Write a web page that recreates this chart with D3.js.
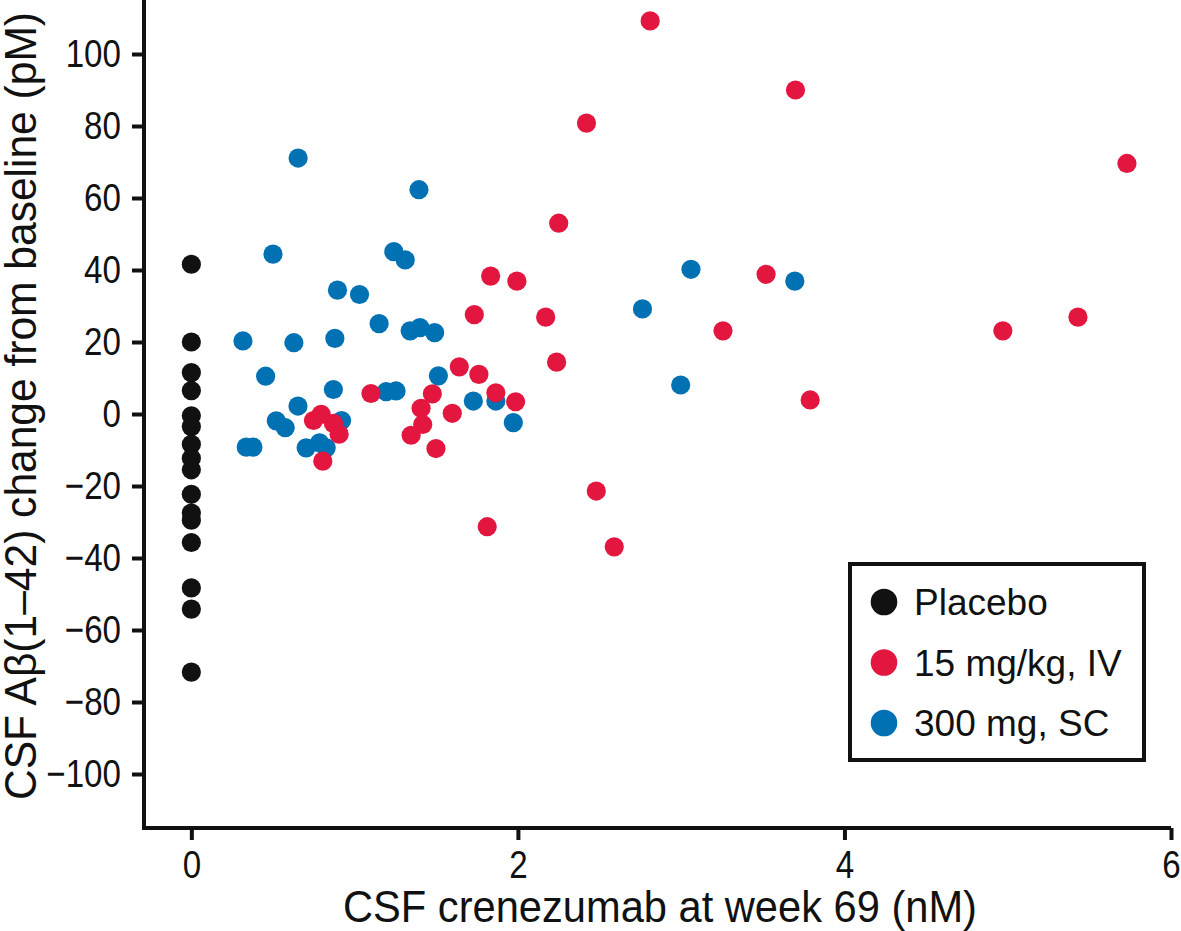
<!DOCTYPE html>
<html>
<head>
<meta charset="utf-8">
<script src="https://cdn.jsdelivr.net/npm/d3@7"></script>
<style>
  html, body { margin: 0; padding: 0; background: #fff; }
  svg { display: block; }
</style>
</head>
<body>
<svg id="chart" width="1181" height="931"></svg>
<script>
// ---- data ----
const seriesNames = ["Placebo", "15 mg/kg, IV", "300 mg, SC"];
const seriesColors = ["#111111", "#e3163f", "#0071b3"];

const placeboX = [0, 0, 0, 0, 0, 0, 0, 0, 0, 0, 0, 0, 0, 0, 0, 0];
const placeboY = [41.6, 20, 11.5, 6.5, -0.5, -3.5, -8.4, -12.3, -15.5, -22.3, -27.5, -29.5, -35.7, -48.3, -54.2, -71.7];

const ivX = [2.81, 3.70, 2.42, 5.73, 2.25, 1.833, 1.994, 3.52, 1.733, 2.17, 3.256, 4.97, 5.43, 2.237, 1.641, 1.761, 1.10, 1.476, 1.865, 1.986, 3.79, 1.407, 1.598, 1.417, 1.346, 1.498, 0.748, 0.795, 0.87, 0.905, 0.805, 2.48, 2.59, 1.812];
const ivY = [109.2, 90.0, 80.8, 69.6, 53.0, 38.3, 36.9, 38.8, 27.6, 26.9, 23.1, 23.1, 26.9, 14.4, 13.1, 11.0, 5.7, 5.6, 5.9, 3.4, 3.9, 1.6, 0.2, -2.9, -5.9, -9.6, -1.8, -0.1, -2.6, -5.6, -13.1, -21.4, -36.9, -31.3];

const scX = [0.654, 1.394, 0.50, 1.24, 1.31, 0.895, 1.03, 1.15, 1.34, 1.40, 1.49, 0.316, 0.628, 0.879, 0.455, 1.513, 0.87, 1.193, 1.254, 1.727, 1.865, 0.653, 0.52, 0.575, 0.92, 1.972, 0.336, 0.377, 0.703, 0.785, 0.826, 3.06, 2.763, 3.696, 2.997];
const scY = [71.1, 62.3, 44.4, 45.1, 42.8, 34.4, 33.2, 25.1, 23.1, 24.0, 22.6, 20.3, 19.8, 21.0, 10.5, 10.6, 6.8, 6.2, 6.4, 3.6, 3.6, 2.2, -1.9, -3.8, -1.8, -2.4, -9.2, -9.2, -9.4, -8.0, -9.4, 40.2, 29.2, 36.9, 8.05];

const xTicks = [0, 2, 4, 6];
const yTicks = [-100, -80, -60, -40, -20, 0, 20, 40, 60, 80, 100];
const xTitle = "CSF crenezumab at week 69 (nM)";
const yTitle = "CSF A\u03b2(1\u201342) change from baseline (pM)";

// ---- layout ----
const svg = d3.select("#chart");
const plotLeft = 144, plotRight = 1171, plotTop = 0, plotBottom = 828;

const x = d3.scaleLinear().domain([-0.29, 6]).range([plotLeft, plotRight]);
const y = d3.scaleLinear().domain([-115, 115]).range([plotBottom, plotTop]);

const baseFont = "'Liberation Sans', Arial, sans-serif";

// condense text horizontally (reference uses a condensed face)
function condense(sel, factor) {
  sel.each(function () {
    const w = this.getComputedTextLength();
    d3.select(this).attr("textLength", w * factor).attr("lengthAdjust", "spacingAndGlyphs");
  });
}

// axes
const gx = svg.append("g").attr("transform", `translate(0,${plotBottom})`)
  .call(d3.axisBottom(x).tickValues(xTicks).tickFormat(d3.format("d")).tickSizeOuter(0).tickSize(12).tickPadding(10));
const gy = svg.append("g").attr("transform", `translate(${plotLeft},0)`)
  .call(d3.axisLeft(y).tickValues(yTicks).tickFormat(d => d < 0 ? "\u2212" + Math.abs(d) : String(d)).tickSizeOuter(0).tickSize(12).tickPadding(11));

[gx, gy].forEach(g => {
  g.select(".domain").attr("stroke", "#111").attr("stroke-width", 4);
  g.selectAll(".tick line").attr("stroke", "#111").attr("stroke-width", 4);
  g.selectAll(".tick text").attr("fill", "#111").style("font-size", "39px").style("font-family", baseFont);
  condense(g.selectAll(".tick text"), 0.85);
});
gx.select(".domain").attr("d", `M${plotLeft - 2},0H${plotRight}`);
gy.select(".domain").attr("d", `M0,${plotTop}V${plotBottom + 2}`);

// titles
svg.append("text")
  .attr("x", 660)
  .attr("y", 922)
  .attr("text-anchor", "middle")
  .style("font-family", baseFont)
  .style("font-size", "44px")
  .attr("fill", "#111")
  .attr("textLength", 634)
  .attr("lengthAdjust", "spacingAndGlyphs")
  .text(xTitle);

svg.append("text")
  .attr("transform", `translate(36,406) rotate(-90)`)
  .attr("text-anchor", "middle")
  .style("font-family", baseFont)
  .style("font-size", "45px")
  .attr("fill", "#111")
  .attr("textLength", 788)
  .attr("lengthAdjust", "spacingAndGlyphs")
  .text(yTitle);

// points
const r = 9.6;
const series = [
  { name: seriesNames[0], color: seriesColors[0], xs: placeboX, ys: placeboY },
  { name: seriesNames[2], color: seriesColors[2], xs: scX, ys: scY },
  { name: seriesNames[1], color: seriesColors[1], xs: ivX, ys: ivY }
];
series.forEach(s => {
  svg.append("g").selectAll("circle")
    .data(s.xs.map((v, i) => [v, s.ys[i]]))
    .join("circle")
    .attr("cx", d => x(d[0]))
    .attr("cy", d => y(d[1]))
    .attr("r", r)
    .attr("fill", s.color);
});

// legend
const lg = svg.append("g");
lg.append("rect")
  .attr("x", 850).attr("y", 564).attr("width", 294).attr("height", 196)
  .attr("fill", "#fff").attr("stroke", "#111").attr("stroke-width", 4);
[0, 1, 2].forEach((k, i) => {
  const cy = 602 + i * 60.5;
  lg.append("circle").attr("cx", 884).attr("cy", cy).attr("r", 13.3).attr("fill", seriesColors[k]);
  lg.append("text").attr("x", 914).attr("y", cy + 13)
    .style("font-family", baseFont)
    .style("font-size", "37px").attr("fill", "#111")
    .text(seriesNames[k]);
});
</script>
</body>
</html>
